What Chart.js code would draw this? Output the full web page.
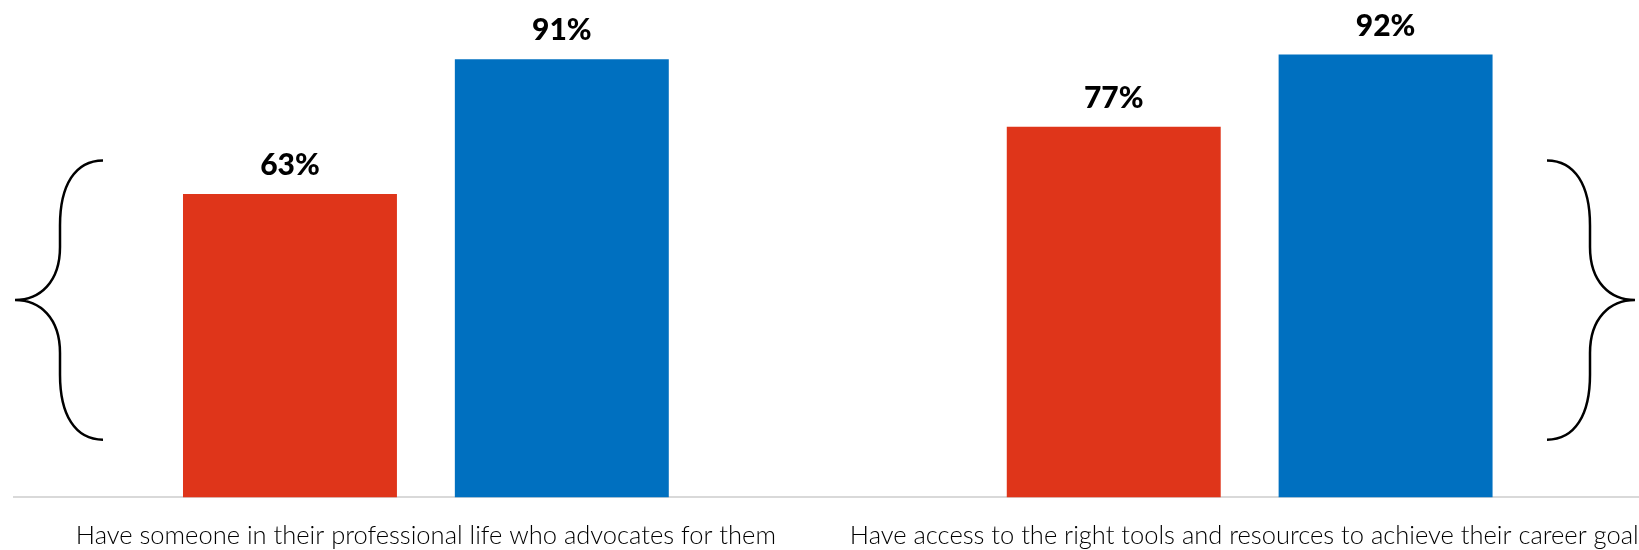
<!DOCTYPE html>
<html>
<head>
<meta charset="utf-8">
<title>Advocacy and resources</title>
<script src="https://cdn.jsdelivr.net/npm/chart.js@4/dist/chart.umd.min.js"></script>
<style>
  html, body { margin: 0; padding: 0; background: #fff; overflow: hidden; }
  #wrap { width: 1639px; height: 550px; overflow: hidden; }
</style>
</head>
<body>
<div id="wrap"><canvas id="chart" width="1676" height="574"></canvas></div>
<script>
const categories = [
  "Have someone in their professional life who advocates for them",
  "Have access to the right tools and resources to achieve their career goals"
];
const redValues = [63, 77];
const blueValues = [91, 92];

const RED = "#DF351A";
const BLUE = "#0070C0";

// percent labels above each bar
const valueLabels = {
  id: "valueLabels",
  afterDatasetsDraw(chart) {
    const ctx = chart.ctx;
    ctx.save();
    ctx.font = "900 30px Lato";
    ctx.fillStyle = "#000";
    ctx.textAlign = "center";
    ctx.textBaseline = "alphabetic";
    chart.data.datasets.forEach((ds, i) => {
      chart.getDatasetMeta(i).data.forEach((bar, j) => {
        ctx.fillText(ds.data[j] + "%", bar.x, bar.y - 19);
      });
    });
    ctx.restore();
  }
};

// curly braces at both sides of the plot
const braces = {
  id: "braces",
  afterDraw(chart) {
    const { ctx, scales: { y } } = chart;
    const top = y.getPixelForValue(70);
    const bot = y.getPixelForValue(12);
    const mid = (top + bot) / 2;

    function brace(tipX, dir) {
      // dir = 1 opens to the right, -1 opens to the left
      const outer = tipX + 88 * dir;
      const stem = tipX + 45 * dir;
      ctx.beginPath();
      ctx.moveTo(outer, top);
      ctx.bezierCurveTo(tipX + 60 * dir, top, stem, top + 25, stem, top + 65);
      ctx.lineTo(stem, mid - 53);
      ctx.bezierCurveTo(stem, mid - 18, tipX + 25 * dir, mid, tipX, mid);
      ctx.bezierCurveTo(tipX + 25 * dir, mid, stem, mid + 18, stem, mid + 53);
      ctx.lineTo(stem, bot - 65);
      ctx.bezierCurveTo(stem, bot - 25, tipX + 60 * dir, bot, outer, bot);
      ctx.stroke();
    }

    ctx.save();
    ctx.strokeStyle = "#000";
    ctx.lineWidth = 2.5;
    brace(15, 1);
    brace(1635, -1);
    ctx.restore();
  }
};

new Chart(document.getElementById("chart"), {
  type: "bar",
  data: {
    labels: categories,
    datasets: [
      { data: redValues, backgroundColor: RED, barPercentage: 0.787, categoryPercentage: 0.66 },
      { data: blueValues, backgroundColor: BLUE, barPercentage: 0.787, categoryPercentage: 0.66 }
    ]
  },
  options: {
    responsive: false,
    animation: false,
    events: [],
    layout: { padding: { left: 14, right: 14, top: 16, bottom: 0 } },
    plugins: { legend: { display: false }, tooltip: { enabled: false } },
    scales: {
      y: { display: false, min: 0, max: 100 },
      x: {
        grid: { display: false, drawTicks: false },
        border: { display: true, color: "#d9d9d9", width: 2 },
        ticks: {
          color: "#000",
          font: { family: "Lato", weight: "300", size: 25.5 },
          padding: 23,
          maxRotation: 0,
          autoSkip: false
        }
      }
    }
  },
  plugins: [valueLabels, braces]
});
</script>
</body>
</html>
